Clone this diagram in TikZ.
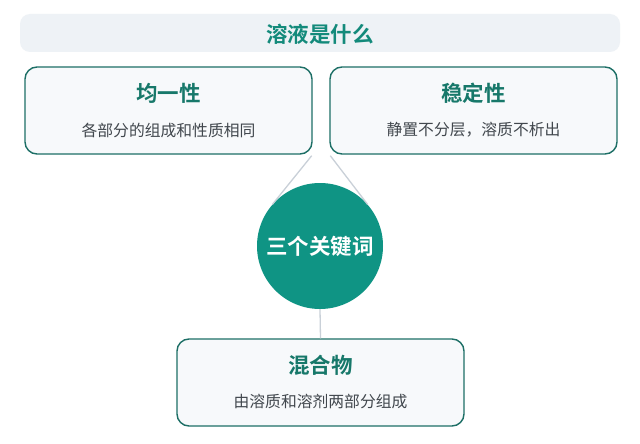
\documentclass[tikz,border=0pt]{standalone}
\usepackage{fontspec}
\newfontfamily\cjk{Noto Sans CJK SC}
\newfontfamily\cjkb{Noto Sans CJK SC Bold}
\definecolor{teal1}{HTML}{0F9484}
\definecolor{bartxtc}{HTML}{138A7B}
\definecolor{tealtxt}{HTML}{17786A}
\definecolor{border}{HTML}{1D6F66}
\definecolor{boxfill}{HTML}{F7F9FB}
\definecolor{barfill}{HTML}{EEF2F6}
\definecolor{subtxt}{HTML}{41474D}
\definecolor{conn}{HTML}{C9D0D8}
\tikzset{
  card/.style={draw=border, line width=1.4pt, fill=boxfill, rounded corners=12pt, minimum width=287pt, minimum height=87pt, inner sep=0pt},
  cardtitle/.style={text=tealtxt, font=\cjkb\fontsize{21.5}{24}\selectfont, inner sep=0pt},
  cardsub/.style={text=subtxt, font=\cjk\fontsize{15.8}{18}\selectfont, inner sep=0pt},
  conline/.style={draw=conn, line width=1.3pt},
}
\begin{document}
\begin{tikzpicture}[x=1pt,y=-1pt]
\useasboundingbox (0,0) rectangle (640,444);
\fill[white] (0,0) rectangle (640,444);
% title bar
\node[fill=barfill, rounded corners=10pt, minimum width=600pt, minimum height=38pt, inner sep=0pt] (bar) at (320,33) {};
\node[text=bartxtc, font=\cjkb\fontsize{21.5}{24}\selectfont, inner sep=0pt] (bartxt) at (320,34) {溶液是什么};
% cards
\node[card] (b1) at (168.5,110.5) {};
\node[card] (b2) at (473.5,110.5) {};
\node[card] (b3) at (320.5,382.5) {};
% circle
\node[circle, fill=teal1, minimum size=126pt, inner sep=0pt] (c) at (320,246) {};
% connectors
\draw[conline] ([xshift=-1pt,yshift=-1pt]b1.south east) -- (c.139);
\draw[conline] ([xshift=1pt,yshift=-1pt]b2.south west) -- (c.41);
\draw[conline] (c.south) -- (b3.north);
\node[text=white, font=\cjkb\fontsize{21.5}{24}\selectfont, inner sep=0pt] (ctxt) at (320,246) {三个关键词};
% card texts
\node[cardtitle] (t1) at (168.5,93) {均一性};
\node[cardsub] (s1) at (168.5,130) {各部分的组成和性质相同};
\node[cardtitle] (t2) at (473.5,93) {稳定性};
\node[cardsub] (s2) at (473.5,130) {静置不分层，溶质不析出};
\node[cardtitle] (t3) at (320.5,365) {混合物};
\node[cardsub] (s3) at (320.5,402) {由溶质和溶剂两部分组成};
\end{tikzpicture}
\end{document}
